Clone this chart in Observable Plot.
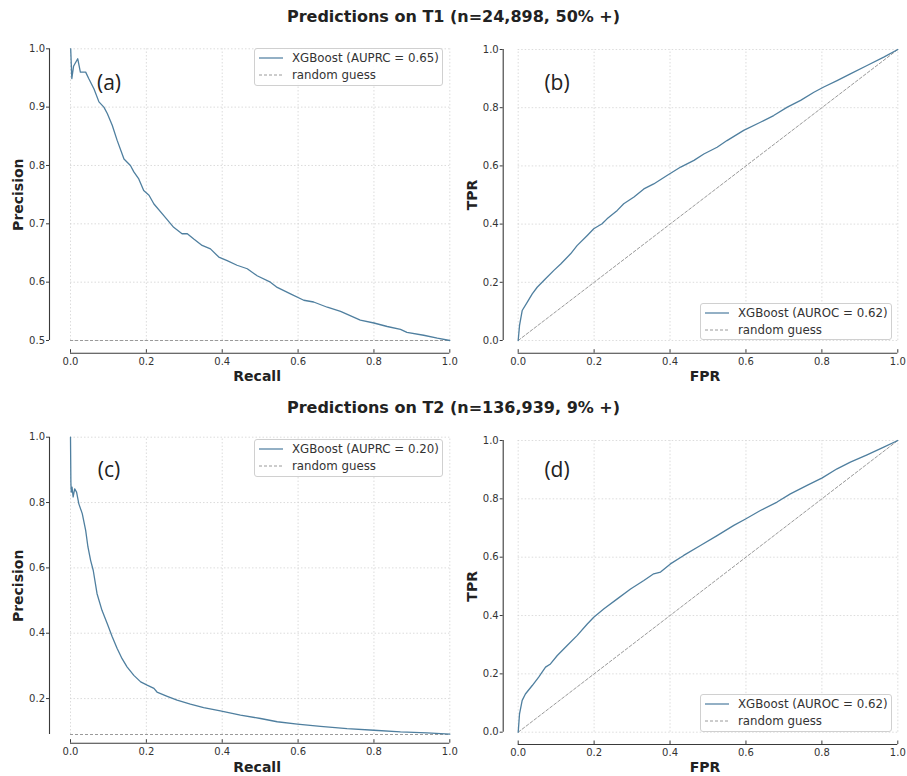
<!DOCTYPE html>
<html>
<head>
<meta charset="utf-8">
<script src="https://cdn.jsdelivr.net/npm/d3@7"></script>
<script src="https://cdn.jsdelivr.net/npm/@observablehq/plot@0.6"></script>
<style>
  html, body { margin: 0; padding: 0; background: #fff; }
  #root { position: relative; width: 907px; height: 776px; font-family: "DejaVu Sans", sans-serif; color: #222; overflow: hidden; }
  .title { position: absolute; left: 0; width: 907px; text-align: center; font-weight: bold; font-size: 16px; color: #222; }
  .panel { position: absolute; }
  .tag { position: absolute; font-family: "Open Sans", sans-serif; font-size: 21px; color: #222; transform: translate(-50%, -50%); white-space: nowrap; }
  .legend { position: absolute; box-sizing: border-box; border: 1px solid #d0d0d0; border-radius: 3px; background: rgba(255,255,255,0.85); font-size: 11.8px; color: #333; padding: 0.5px 4px; }
  .legend .row { display: flex; align-items: center; height: 17px; white-space: nowrap; }
  .legend svg { margin-right: 9px; flex: none; }
</style>
</head>
<body>
<div id="root"></div>
<script>
// ---------------- data ----------------
const titles = ["Predictions on T1 (n=24,898, 50% +)", "Predictions on T2 (n=136,939, 9% +)"];
const tags = ["(a)", "(b)", "(c)", "(d)"];
const xTicks = [0, 0.2, 0.4, 0.6, 0.8, 1.0];
const prTicksT1 = [0.5, 0.6, 0.7, 0.8, 0.9, 1.0];
const prTicksT2 = [0.2, 0.4, 0.6, 0.8, 1.0];
const rocTicks = [0, 0.2, 0.4, 0.6, 0.8, 1.0];
const baselineT1 = [0.5];
const baselineT2 = [0.09];
const diagonal = [0, 1];
const legendLabels = ["XGBoost (AUPRC = 0.65)", "XGBoost (AUROC = 0.62)", "XGBoost (AUPRC = 0.20)", "XGBoost (AUROC = 0.62)"];
const randomLabel = "random guess";

const prRecallT1 = [0, 0.0005, 0.0035, 0.008, 0.019, 0.026, 0.04, 0.048, 0.062, 0.075, 0.088, 0.097, 0.11, 0.123, 0.141, 0.158, 0.167, 0.18, 0.193, 0.207, 0.22, 0.246, 0.272, 0.294, 0.308, 0.325, 0.347, 0.369, 0.391, 0.413, 0.439, 0.466, 0.492, 0.527, 0.545, 0.58, 0.615, 0.641, 0.677, 0.712, 0.764, 0.80, 0.835, 0.87, 0.887, 0.931, 0.967, 1.0];
const prPrecT1   = [1.0, 1.0, 0.949, 0.97, 0.983, 0.96, 0.96, 0.949, 0.931, 0.909, 0.90, 0.889, 0.869, 0.843, 0.811, 0.80, 0.789, 0.777, 0.757, 0.749, 0.734, 0.714, 0.694, 0.683, 0.683, 0.674, 0.663, 0.657, 0.643, 0.637, 0.629, 0.623, 0.611, 0.60, 0.591, 0.58, 0.569, 0.566, 0.557, 0.55, 0.535, 0.53, 0.524, 0.519, 0.514, 0.509, 0.504, 0.50];

const rocFprT1 = [0, 0.0035, 0.0105, 0.024, 0.037, 0.05, 0.072, 0.094, 0.112, 0.138, 0.155, 0.182, 0.199, 0.221, 0.234, 0.261, 0.278, 0.305, 0.331, 0.357, 0.392, 0.428, 0.463, 0.489, 0.524, 0.55, 0.594, 0.638, 0.673, 0.709, 0.744, 0.779, 0.805, 0.84, 0.875, 0.919, 0.963, 1.0];
const rocTprT1 = [0, 0.052, 0.103, 0.132, 0.160, 0.183, 0.212, 0.241, 0.263, 0.298, 0.326, 0.361, 0.384, 0.401, 0.418, 0.447, 0.470, 0.493, 0.521, 0.538, 0.567, 0.596, 0.619, 0.641, 0.664, 0.687, 0.722, 0.750, 0.773, 0.802, 0.825, 0.853, 0.871, 0.893, 0.916, 0.945, 0.974, 1.0];

const prRecallT2 = [0, 0.0005, 0.001, 0.002, 0.004, 0.007, 0.011, 0.016, 0.022, 0.031, 0.04, 0.046, 0.053, 0.06, 0.07, 0.083, 0.097, 0.11, 0.123, 0.136, 0.149, 0.167, 0.185, 0.202, 0.22, 0.228, 0.255, 0.281, 0.316, 0.351, 0.395, 0.448, 0.501, 0.545, 0.598, 0.659, 0.729, 0.80, 0.87, 0.94, 1.0];
const prPrecT2   = [1.0, 0.93, 0.862, 0.832, 0.847, 0.817, 0.842, 0.832, 0.796, 0.766, 0.715, 0.664, 0.623, 0.592, 0.521, 0.47, 0.429, 0.389, 0.353, 0.322, 0.297, 0.271, 0.251, 0.241, 0.231, 0.220, 0.207, 0.195, 0.183, 0.172, 0.162, 0.149, 0.139, 0.129, 0.122, 0.115, 0.108, 0.103, 0.098, 0.095, 0.091];

const rocFprT2 = [0, 0.0035, 0.0105, 0.019, 0.037, 0.054, 0.072, 0.085, 0.103, 0.129, 0.155, 0.182, 0.199, 0.226, 0.261, 0.296, 0.331, 0.357, 0.375, 0.401, 0.436, 0.48, 0.524, 0.568, 0.599, 0.638, 0.682, 0.717, 0.761, 0.801, 0.84, 0.875, 0.919, 0.963, 1.0];
const rocTprT2 = [0, 0.063, 0.109, 0.131, 0.16, 0.189, 0.223, 0.234, 0.263, 0.297, 0.331, 0.371, 0.394, 0.423, 0.457, 0.491, 0.52, 0.543, 0.549, 0.577, 0.606, 0.64, 0.674, 0.709, 0.731, 0.76, 0.789, 0.817, 0.846, 0.872, 0.903, 0.926, 0.951, 0.977, 1.0];

// ---------------- helpers ----------------
const zip = (xs, ys) => xs.map((x, i) => ({x, y: ys[i]}));
const curveColor = "#4f7f9f";
const guessColor = "#9a9a9a";
const spineColor = "#3a3a3a";
const gridColor = "#d3d3d3";

const root = document.getElementById("root");

function addTitle(text, top) {
  const d = document.createElement("div");
  d.className = "title"; d.style.top = top + "px"; d.textContent = text;
  root.appendChild(d);
}

function addTag(text, cx, cy) {
  const d = document.createElement("div");
  d.className = "tag"; d.style.left = cx + "px"; d.style.top = cy + "px"; d.textContent = text;
  root.appendChild(d);
}

function sample(dashed) {
  const ns = "http://www.w3.org/2000/svg";
  const s = document.createElementNS(ns, "svg");
  s.setAttribute("width", 24); s.setAttribute("height", 4);
  const l = document.createElementNS(ns, "line");
  l.setAttribute("x1", 0); l.setAttribute("x2", 24); l.setAttribute("y1", 2); l.setAttribute("y2", 2);
  l.setAttribute("stroke", dashed ? guessColor : "#6f96b2");
  l.setAttribute("stroke-width", dashed ? 1 : 1.5);
  if (dashed) l.setAttribute("stroke-dasharray", "3,2");
  s.appendChild(l);
  return s;
}

function addLegend(label, left, top, width, height) {
  const d = document.createElement("div");
  d.className = "legend";
  Object.assign(d.style, {left: left + "px", top: top + "px", width: width + "px", height: height + "px"});
  [[label, false], [randomLabel, true]].forEach(([t, dashed]) => {
    const r = document.createElement("div"); r.className = "row";
    r.appendChild(sample(dashed));
    const span = document.createElement("span"); span.textContent = t;
    r.appendChild(span);
    d.appendChild(r);
  });
  root.appendChild(d);
}

function addPanel(cfg) {
  const {left, top, width, height, spineX, x0, x1, yTop, yBot, spineY, yDomain, yTicks, data, baseline, diag, xLabel, yLabel, yLabelX, xLabelDy} = cfg;
  const marginLeft = spineX - left;
  const insetLeft = x0 - spineX;
  const marginRight = left + width - x1;
  const marginTop = yTop - top;
  const marginBottom = top + height - spineY;
  const insetBottom = spineY - yBot;
  const frameH = spineY - yTop;
  const marks = [
    Plot.ruleY(yTicks, {x1: 0, x2: 1, stroke: gridColor, strokeWidth: 0.8, strokeDasharray: "1.5,2"}),
    Plot.ruleX(xTicks, {y1: yDomain[0], y2: yDomain[1], stroke: gridColor, strokeWidth: 0.8, strokeDasharray: "1.5,2"}),
  ];
  if (baseline) marks.push(Plot.ruleY(baseline, {x1: 0, x2: 1, stroke: guessColor, strokeWidth: 1, strokeDasharray: "3,2"}));
  if (diag) marks.push(Plot.line(diag, {x: d => d, y: d => d, stroke: guessColor, strokeWidth: 1, strokeDasharray: "3,2"}));
  marks.push(
    Plot.line(data, {x: "x", y: "y", stroke: curveColor, strokeWidth: 1.3, curve: "linear"}),
    // offset spines
    Plot.ruleX([xTicks[0]], {y1: yDomain[0], y2: yDomain[1], dx: -insetLeft, stroke: spineColor, strokeWidth: 1.1}),
    Plot.ruleY([yDomain[0]], {x1: xTicks[0], x2: xTicks[xTicks.length - 1], dy: insetBottom, stroke: spineColor, strokeWidth: 1.1}),
    // x ticks pointing inward from the bottom spine
    Plot.ruleX(xTicks, {insetTop: frameH - 3.5, stroke: spineColor, strokeWidth: 1}),
    Plot.axisY({ticks: yTicks, tickFormat: d3.format(".1f"), tickSize: 3, tickPadding: 1.5, label: null, stroke: spineColor, fill: "#333"}),
    Plot.axisX({ticks: xTicks, tickFormat: d3.format(".1f"), tickSize: 0, tickPadding: 4.5, label: null, fill: "#333"}),
    Plot.text([xLabel], {text: d => d, frameAnchor: "bottom", lineAnchor: "middle", textAnchor: "middle", dx: insetLeft / 2 - 3, dy: xLabelDy, fontWeight: "bold", fontSize: 14, fill: "#222"}),
    Plot.text([yLabel], {text: d => d, frameAnchor: "left", lineAnchor: "middle", textAnchor: "middle", dx: yLabelX - spineX, dy: -insetBottom / 2, rotate: -90, fontWeight: "bold", fontSize: 14, fill: "#222"})
  );
  const svg = Plot.plot({
    width, height, marginLeft, marginRight, marginTop, marginBottom,
    x: {domain: [0, 1], insetLeft},
    y: {domain: yDomain, insetBottom},
    style: {fontFamily: "DejaVu Sans", fontSize: "10px", background: "transparent", overflow: "visible"},
    marks
  });
  svg.classList.add("panel");
  svg.style.left = left + "px";
  svg.style.top = top + "px";
  root.appendChild(svg);
}

// ---------------- layout ----------------
addTitle(titles[0], 7);
addTitle(titles[1], 398);

addPanel({left: 0, top: 30, width: 453, height: 360, spineX: 49, x0: 70, x1: 449.3, yTop: 48.3, yBot: 340, spineY: 352.7,
  yDomain: [0.5, 1.0], yTicks: prTicksT1, data: zip(prRecallT1, prPrecT1), baseline: baselineT1,
  xLabel: "Recall", yLabel: "Precision", yLabelX: 18.5, xLabelDy: 23.5});
addPanel({left: 453, top: 30, width: 454, height: 360, spineX: 502.7, x0: 517.7, x1: 897.3, yTop: 49, yBot: 340, spineY: 352.7,
  yDomain: [0, 1.0], yTicks: rocTicks, data: zip(rocFprT1, rocTprT1), diag: diagonal,
  xLabel: "FPR", yLabel: "TPR", yLabelX: 472.5, xLabelDy: 23.5});
addPanel({left: 0, top: 420, width: 453, height: 356, spineX: 49, x0: 70, x1: 449.3, yTop: 436.7, yBot: 734, spineY: 742.7,
  yDomain: [0.09, 1.0], yTicks: prTicksT2, data: zip(prRecallT2, prPrecT2), baseline: baselineT2,
  xLabel: "Recall", yLabel: "Precision", yLabelX: 18.5, xLabelDy: 24});
addPanel({left: 453, top: 420, width: 454, height: 356, spineX: 502.7, x0: 517.7, x1: 897.3, yTop: 440, yBot: 731.7, spineY: 744,
  yDomain: [0, 1.0], yTicks: rocTicks, data: zip(rocFprT2, rocTprT2), diag: diagonal,
  xLabel: "FPR", yLabel: "TPR", yLabelX: 472.5, xLabelDy: 23.5});

addLegend(legendLabels[0], 254, 48, 189, 38);
addLegend(legendLabels[1], 700, 302.7, 192, 37.5);
addLegend(legendLabels[2], 254, 439, 189, 38);
addLegend(legendLabels[3], 700, 694, 192, 37.5);

addTag(tags[0], 109, 81.7);
addTag(tags[1], 557, 81.7);
addTag(tags[2], 109, 469);
addTag(tags[3], 557, 469);
</script>
</body>
</html>
